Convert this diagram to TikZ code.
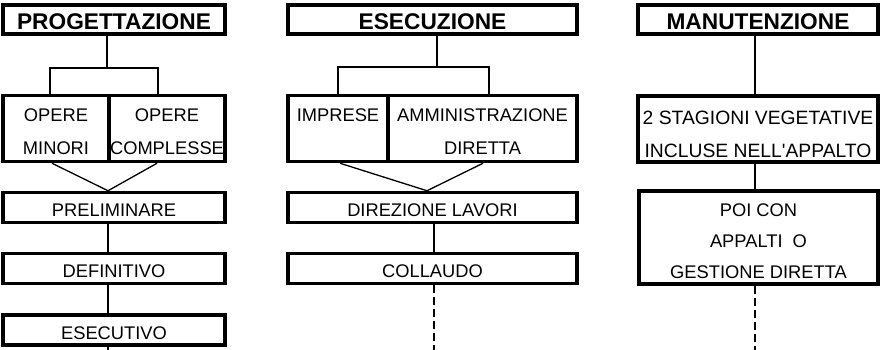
\documentclass[tikz,border=0pt]{standalone}
\usepackage{fontspec}
\setmainfont{Liberation Sans}
\usepackage{tikz}
% stacked lines, lowered inside their box
\newcommand{\droplines}[2]{\raisebox{-#1}[\height][\depth]{\begin{tabular}{@{}c@{}}#2\end{tabular}}}

\begin{document}
\begin{tikzpicture}[x=1pt, y=-1pt,
  titlebox/.style={draw, line width=3.5pt, inner sep=0pt, minimum height=29pt,
    text height=19.3pt, text depth=0pt,
    font=\bfseries\fontsize{22.7}{26}\selectfont},
  boxbase/.style={draw, line width=3.5pt, inner sep=0pt,
    font=\fontsize{18.3}{33}\selectfont},
  stepbox/.style={boxbase, minimum height=30pt, text height=18pt, text depth=0pt},
  twoline/.style={boxbase, minimum height=60pt},
  link/.style={line width=1.3pt},
  tail/.style={line width=1.3pt, dash pattern=on 8pt off 4pt}]
  \useasboundingbox (0,0) rectangle (881,350);

  % Progettazione column
  \node[titlebox, minimum width=222pt] (prog) at (114,19.5) {PROGETTAZIONE};
  \node[twoline, minimum width=106pt] (minori) at (56,128.5) {\droplines{2.5pt}{OPERE\\MINORI}};
  \node[twoline, minimum width=116pt] (complesse) at (167,128.5) {\droplines{2.5pt}{OPERE\\COMPLESSE}};
  \node[stepbox, minimum width=222pt] (prelim) at (114,207.5) {PRELIMINARE};
  \node[stepbox, minimum width=222pt] (defin) at (114,268.5) {DEFINITIVO};
  \node[stepbox, minimum width=222pt] (esec) at (114,330) {ESECUTIVO};

  \coordinate (fork1) at (107,68);
  \coordinate (spine1) at (108,350);
  \draw[link] (prog.south -| fork1) -- (fork1);
  \draw[link] ([xshift=-6pt]minori.north) |- (fork1);
  \draw[link] ([xshift=-9pt]complesse.north) |- (fork1);
  \draw[link] ([xshift=-4pt]minori.south) -- (prelim.north -| spine1)
    -- ([xshift=-10pt]complesse.south);
  \draw[link] (prelim.south -| spine1) -- (defin.north -| spine1);
  \draw[link] (defin.south -| spine1) -- (esec.north -| spine1);
  \draw[link] (esec.south -| spine1) -- (spine1);

  % Esecuzione column
  \node[titlebox, minimum width=289pt] (esecz) at (432.5,19.5) {ESECUZIONE};
  \node[twoline, minimum width=100pt] (imprese) at (338,128.5) {\droplines{2.5pt}{IMPRESE\\\phantom{D}}};
  \node[twoline, minimum width=189pt] (amm) at (482.5,128.5) {\droplines{2.5pt}{AMMINISTRAZIONE\\DIRETTA}};
  \node[stepbox, minimum width=289pt] (direz) at (432.5,207.5) {DIREZIONE LAVORI};
  \node[stepbox, minimum width=289pt] (collaudo) at (432.5,268.5) {COLLAUDO};

  \coordinate (fork2) at (437,67);
  \coordinate (spine2) at (434,350);
  \draw[link] (esecz.south -| fork2) -- (fork2);
  \draw[link] (imprese.north) |- (fork2);
  \draw[link] ([xshift=6.5pt]amm.north) |- (fork2);
  \draw[link] ([xshift=2pt]imprese.south) -- ([xshift=-5.5pt]direz.north)
    -- ([xshift=0.5pt]amm.south);
  \draw[link] (direz.south -| spine2) -- (collaudo.north -| spine2);
  \draw[tail] (collaudo.south -| spine2) -- (spine2);

  % Manutenzione column
  \node[titlebox, minimum width=240pt] (manut) at (758,19.5) {MANUTENZIONE};
  \node[twoline, minimum width=240pt, minimum height=61pt, font=\fontsize{19.3}{33}\selectfont]
    (stag) at (758,129) {\droplines{5pt}{2 STAGIONI VEGETATIVE\\INCLUSE NELL\textquotesingle APPALTO}};
  \node[boxbase, minimum width=239pt, minimum height=91pt, font=\fontsize{18.3}{31}\selectfont]
    (poi) at (758.5,237.5) {\droplines{3.5pt}{POI CON\\APPALTI~~O\\GESTIONE DIRETTA}};

  \coordinate (spine3) at (755,350);
  \draw[link] (manut.south -| spine3) -- (stag.north -| spine3);
  \draw[link] (stag.south -| spine3) -- (poi.north -| spine3);
  \draw[tail] (poi.south -| spine3) -- (spine3);
\end{tikzpicture}
\end{document}
